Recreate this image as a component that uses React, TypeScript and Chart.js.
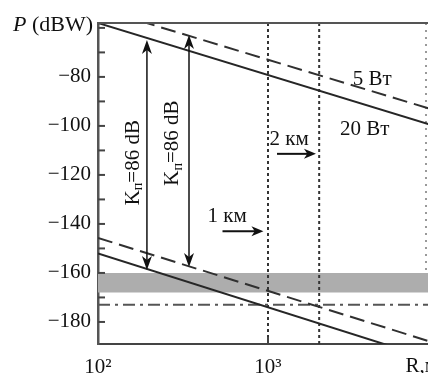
import React, { useEffect, useRef } from 'react';
import { Chart, registerables } from 'chart.js';

Chart.register(...registerables);

const FONT = '"Liberation Serif", "Times New Roman", serif';
const INK = '#1c1c1c';

// ---- axes ----
const xMin = 100;
const xMax = 10000;
const xTickValues = [100, 1000];
const xTickLabels = ['10²', '10³'];
const xAxisTitle = 'R,м';

const yMin = -189;
const yMax = -58;
const yTickValues = [-180, -170, -160, -150, -140, -130, -120, -110, -100, -90, -80, -70, -60];
const yLabelValues = [-180, -160, -140, -120, -100, -80];
const yAxisTitleSymbol = 'P';
const yAxisTitleUnit = ' (dBW)';

// ---- series (P in dBW at R = 100 m and R = 10 km) ----
const rangeR = [100, 10000];
const upperSolid20W = [-58, -100.5];
const upperDashed5W = [-52, -94];
const lowerSolid20W = [-152, -196];
const lowerDashed5W = [-145.7, -189];

const bandTopP = -160;
const bandBottomP = -168;
const noiseP = -173;

const markerR = [1000, 2000];
const faintMarkerR = 8500;
const faintMarkerP = [-58, -160];

// ---- annotations ----
const gainArrowR = [194, 343];
const gainArrowTopP = [-64.9, -62.9];
const gainArrowBottomP = [-158.8, -157.6];
const gainTextR = [161, 276];
const gainTextP = [-115, -107];
const gainTextParts = ['K', 'п', '=86 dB'];

const distanceLabels = ['1 км', '2 км'];
const distanceLabelR = [575, 1330];
const distanceLabelP = [-137, -105.7];
const distanceArrowFromR = [540, 1130];
const distanceArrowToR = [940, 1915];
const distanceArrowP = [-143, -111.4];

const powerLabels = ['5 Вт', '20 Вт'];
const powerLabelR = [4100, 3700];
const powerLabelP = [-81.2, -101.6];

const pts = (rs: number[], ps: number[]) => rs.map((r, i) => ({ x: r, y: ps[i] }));

function head(ctx: CanvasRenderingContext2D, tx: number, ty: number, dx: number, dy: number, len: number, half: number) {
  const bx = tx - dx * len, by = ty - dy * len;
  const nx = -dy, ny = dx;
  const mx = tx - dx * len * 0.72, my = ty - dy * len * 0.72;
  ctx.beginPath();
  ctx.moveTo(tx, ty);
  ctx.lineTo(bx + nx * half, by + ny * half);
  ctx.lineTo(mx, my);
  ctx.lineTo(bx - nx * half, by - ny * half);
  ctx.closePath();
  ctx.fill();
}

const decorPlugin = {
  id: 'decor',
  afterDraw(chart: any) {
    const { ctx, chartArea, scales } = chart;
    const xs = scales.x, ys = scales.y;
    ctx.save();
    // top frame line
    ctx.strokeStyle = '#555';
    ctx.lineWidth = 2;
    ctx.beginPath();
    ctx.moveTo(chartArea.left, chartArea.top);
    ctx.lineTo(chartArea.right, chartArea.top);
    ctx.stroke();
    // inward ticks
    ctx.strokeStyle = '#444';
    ctx.lineWidth = 2;
    yTickValues.forEach((v) => {
      const py = ys.getPixelForValue(v);
      ctx.beginPath();
      ctx.moveTo(chartArea.left, py);
      ctx.lineTo(chartArea.left + 7, py);
      ctx.stroke();
    });
    xTickValues.forEach((v) => {
      if (v <= xMin) return;
      const px = xs.getPixelForValue(v);
      ctx.beginPath();
      ctx.moveTo(px, chartArea.bottom);
      ctx.lineTo(px, chartArea.bottom - 7);
      ctx.stroke();
    });

    // y axis title
    ctx.fillStyle = '#111';
    ctx.textBaseline = 'alphabetic';
    ctx.textAlign = 'left';
    ctx.font = `italic 22px ${FONT}`;
    ctx.fillText(yAxisTitleSymbol, 13, 31);
    const wP = ctx.measureText(yAxisTitleSymbol).width;
    ctx.font = `22px ${FONT}`;
    ctx.fillText(yAxisTitleUnit, 13 + wP, 31);

    // double arrows
    ctx.strokeStyle = '#111';
    ctx.fillStyle = '#111';
    ctx.lineWidth = 1.5;
    gainArrowR.forEach((r, i) => {
      const px = xs.getPixelForValue(r);
      const t = ys.getPixelForValue(gainArrowTopP[i]);
      const b = ys.getPixelForValue(gainArrowBottomP[i]);
      ctx.beginPath();
      ctx.moveTo(px, t + 6);
      ctx.lineTo(px, b - 6);
      ctx.stroke();
      head(ctx, px, t, 0, -1, 14, 5);
      head(ctx, px, b, 0, 1, 14, 5);
    });

    // rotated K labels
    gainTextR.forEach((r, i) => {
      const px = xs.getPixelForValue(r);
      const py = ys.getPixelForValue(gainTextP[i]);
      ctx.save();
      ctx.translate(px, py);
      ctx.rotate(-Math.PI / 2);
      const main = `21px ${FONT}`, sub = `14px ${FONT}`;
      ctx.font = main;
      const w1 = ctx.measureText(gainTextParts[0]).width;
      const w3 = ctx.measureText(gainTextParts[2]).width;
      ctx.font = sub;
      const w2 = ctx.measureText(gainTextParts[1]).width;
      let x0 = -(w1 + w2 + w3) / 2;
      ctx.textBaseline = 'middle';
      ctx.textAlign = 'left';
      ctx.font = main;
      ctx.fillText(gainTextParts[0], x0, 0);
      x0 += w1;
      ctx.font = sub;
      ctx.fillText(gainTextParts[1], x0, 5);
      x0 += w2;
      ctx.font = main;
      ctx.fillText(gainTextParts[2], x0, 0);
      ctx.restore();
    });

    // distance labels + arrows
    ctx.font = `21px ${FONT}`;
    ctx.textAlign = 'center';
    ctx.textBaseline = 'middle';
    distanceLabels.forEach((s, i) => {
      ctx.fillText(s, xs.getPixelForValue(distanceLabelR[i]), ys.getPixelForValue(distanceLabelP[i]));
      const x1 = xs.getPixelForValue(distanceArrowFromR[i]);
      const x2 = xs.getPixelForValue(distanceArrowToR[i]);
      const py = ys.getPixelForValue(distanceArrowP[i]);
      ctx.lineWidth = 2;
      ctx.beginPath();
      ctx.moveTo(x1, py);
      ctx.lineTo(x2 - 8, py);
      ctx.stroke();
      head(ctx, x2, py, 1, 0, 12, 5);
    });

    // power labels
    powerLabels.forEach((s, i) => {
      ctx.fillText(s, xs.getPixelForValue(powerLabelR[i]), ys.getPixelForValue(powerLabelP[i]));
    });
    ctx.restore();
  },
};

export default function App() {
  const ref = useRef<HTMLCanvasElement | null>(null);

  useEffect(() => {
    if (!ref.current) return;
    const lineStyle = { pointRadius: 0, borderWidth: 2, tension: 0, fill: false };
    const chart = new Chart(ref.current, {
      type: 'line',
      data: {
        datasets: [
          { ...lineStyle, label: '20 Вт', data: pts(rangeR, upperSolid20W), borderColor: '#262626' },
          { ...lineStyle, label: '5 Вт', data: pts(rangeR, upperDashed5W), borderColor: '#303030', borderDash: [15, 7] },
          { ...lineStyle, label: '20 Вт (min)', data: pts(rangeR, lowerSolid20W), borderColor: '#262626' },
          { ...lineStyle, label: '5 Вт (min)', data: pts(rangeR, lowerDashed5W), borderColor: '#303030', borderDash: [15, 7] },
          { ...lineStyle, label: 'noise', data: pts(rangeR, [noiseP, noiseP]), borderColor: '#555', borderDash: [12, 5, 3, 5] },
          ...markerR.map((r) => ({ ...lineStyle, label: `${r} m`, data: pts([r, r], [yMin, yMax]), borderColor: '#333', borderDash: [3, 3] })),
          { ...lineStyle, label: 'faint', data: pts([faintMarkerR, faintMarkerR], faintMarkerP), borderColor: '#999', borderDash: [2, 5] },
          {
            label: 'band',
            data: pts(rangeR, [bandTopP, bandTopP]),
            pointRadius: 0,
            borderWidth: 0,
            borderColor: 'rgba(0,0,0,0)',
            backgroundColor: '#adadad',
            fill: { value: bandBottomP },
          },
        ],
      },
      options: {
        animation: false,
        responsive: false,
        events: [],
        layout: { padding: { left: 0, top: 23, right: 2, bottom: 0 } },
        plugins: { legend: { display: false }, tooltip: { enabled: false } },
        scales: {
          x: {
            type: 'logarithmic',
            min: xMin,
            max: xMax,
            grid: { display: false, drawTicks: false },
            border: { display: true, color: '#444', width: 2 },
            afterBuildTicks: (s: any) => { s.ticks = xTickValues.map((v) => ({ value: v })); },
            afterFit: (s: any) => { s.height = 29; },
            ticks: {
              autoSkip: false,
              maxRotation: 0,
              padding: 11,
              color: '#111',
              font: { family: FONT, size: 21 },
              callback: (v: any) => {
                const i = xTickValues.indexOf(Number(v));
                return i >= 0 ? xTickLabels[i] : '';
              },
            },
            title: {
              display: true,
              text: xAxisTitle,
              align: 'end',
              color: '#111',
              font: { family: FONT, size: 21 },
              padding: { top: 0, bottom: -6 },
            },
          },
          y: {
            type: 'linear',
            min: yMin,
            max: yMax,
            grid: { display: false, drawTicks: false },
            border: { display: true, color: '#555', width: 2.5 },
            afterBuildTicks: (s: any) => { s.ticks = yTickValues.map((v) => ({ value: v })); },
            afterFit: (s: any) => { s.width = 98; },
            ticks: {
              autoSkip: false,
              padding: 7,
              color: '#111',
              font: { family: FONT, size: 21 },
              callback: (v: any) => (yLabelValues.includes(Number(v)) ? '−' + Math.abs(Number(v)) : ''),
            },
          },
        },
      },
      plugins: [decorPlugin],
    } as any);
    return () => chart.destroy();
  }, []);

  return (
    <div style={{ position: 'absolute', left: 0, top: 0, width: 428, height: 373, overflow: 'hidden', background: '#fff' }}>
      <canvas ref={ref} width={440} height={373} style={{ width: 440, height: 373, display: 'block' }} />
    </div>
  );
}
